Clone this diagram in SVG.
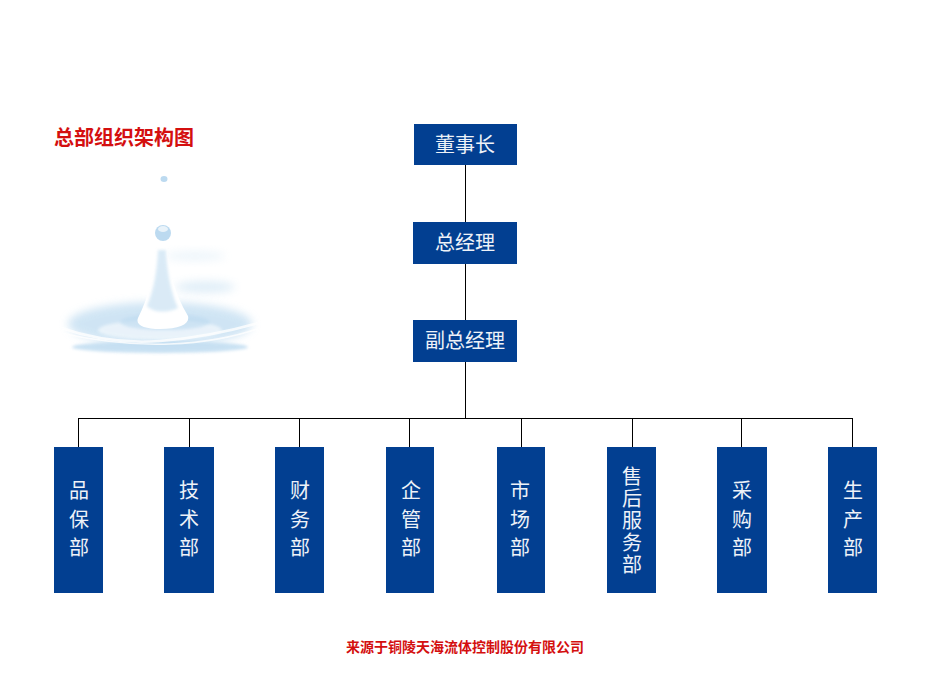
<svg xmlns="http://www.w3.org/2000/svg" width="930" height="700" viewBox="0 0 930 700">
<style>
text{font-family:"Noto Sans CJK SC","Liberation Sans",sans-serif}
.b{fill:#023f91}
.t{fill:#eef2f8;font-size:20px;text-anchor:middle}
.c{stroke:#000;stroke-width:1;fill:none}
.r{fill:#d40f0f;font-weight:700}
.w{fill:#bcdaf0}
.h{fill:#fff}
</style>
<defs>
<filter id="b4" x="-30%" y="-60%" width="160%" height="220%"><feGaussianBlur stdDeviation="4"/></filter>
<filter id="b2" x="-30%" y="-60%" width="160%" height="220%"><feGaussianBlur stdDeviation="1.6"/></filter>
<filter id="b1" x="-30%" y="-30%" width="160%" height="160%"><feGaussianBlur stdDeviation="0.7"/></filter>
</defs>
<g id="water">
<ellipse class="w" cx="160" cy="324" rx="92" ry="22" opacity=".7" filter="url(#b4)"/>
<ellipse class="w" cx="160" cy="347" rx="88" ry="6" opacity=".8" filter="url(#b2)"/>
<ellipse class="w" cx="205" cy="287" rx="30" ry="6" opacity=".45" filter="url(#b4)"/>
<ellipse class="w" cx="195" cy="256" rx="30" ry="5" opacity=".25" filter="url(#b4)"/>
<ellipse class="h" cx="160" cy="330" rx="62" ry="10" opacity=".55" filter="url(#b2)"/>
<ellipse class="w" cx="165" cy="322" rx="45" ry="8" opacity=".6" filter="url(#b2)"/>
<path d="M58 327Q110 345 160 341T262 322" fill="none" stroke="#fff" stroke-width="2.5" opacity=".8" filter="url(#b1)"/>
<path d="M60 333Q120 346 170 344T260 328" fill="none" stroke="#fff" stroke-width="1.5" opacity=".8" filter="url(#b1)"/>
<path d="M155 244L167 244C169 265 172 290 188 316C190 324 180 329 160 329C145 329 135 325 138 318C150 295 154 270 155 244Z" fill="#fff" filter="url(#b1)"/>
<path d="M158 250L166 250C167 275 172 295 178 308C165 314 152 312 147 306C154 290 157 270 158 250Z" class="w" opacity=".55" filter="url(#b2)"/>
<circle cx="163" cy="233" r="8" class="w" filter="url(#b1)"/>
<ellipse cx="163" cy="229" rx="5" ry="3" fill="#e9f3fa" filter="url(#b1)"/>
<ellipse cx="164" cy="179" rx="3.5" ry="3" class="w" filter="url(#b1)"/>
</g>
<text id="title" class="r" x="54" y="145" font-size="20">总部组织架构图</text>
<g id="connectors">
<path class="c" d="M465.500 165V418M78.500 418.500H852.500M78.500 418V447M189.500 418V447M299.500 418V447M409.500 418V447M521.500 418V447M632.500 418V447M741.500 418V447M852.500 418V447"/>
</g>
<g id="n1"><rect class="b" x="414" y="124" width="103" height="41"/><text class="t" x="465" y="152">董事长</text></g>
<g id="n2"><rect class="b" x="413" y="222" width="104" height="42"/><text class="t" x="465" y="250">总经理</text></g>
<g id="n3"><rect class="b" x="413" y="320" width="104" height="42"/><text class="t" x="465" y="348">副总经理</text></g>
<g id="d1"><rect class="b" x="54" y="447" width="49" height="146"/><text class="t" x="79"><tspan x="79" y="498">品</tspan><tspan x="79" y="527">保</tspan><tspan x="79" y="555">部</tspan></text></g>
<g id="d2"><rect class="b" x="164" y="447" width="50" height="146"/><text class="t" x="189"><tspan x="189" y="498">技</tspan><tspan x="189" y="527">术</tspan><tspan x="189" y="555">部</tspan></text></g>
<g id="d3"><rect class="b" x="275" y="447" width="49" height="146"/><text class="t" x="300"><tspan x="300" y="498">财</tspan><tspan x="300" y="527">务</tspan><tspan x="300" y="555">部</tspan></text></g>
<g id="d4"><rect class="b" x="386" y="447" width="48" height="146"/><text class="t" x="411"><tspan x="411" y="498">企</tspan><tspan x="411" y="527">管</tspan><tspan x="411" y="555">部</tspan></text></g>
<g id="d5"><rect class="b" x="497" y="447" width="48" height="146"/><text class="t" x="520"><tspan x="520" y="498">市</tspan><tspan x="520" y="527">场</tspan><tspan x="520" y="555">部</tspan></text></g>
<g id="d6"><rect class="b" x="607" y="447" width="49" height="146"/><text class="t" x="632"><tspan x="632" y="484">售</tspan><tspan x="632" y="506">后</tspan><tspan x="632" y="528">服</tspan><tspan x="632" y="550">务</tspan><tspan x="632" y="572">部</tspan></text></g>
<g id="d7"><rect class="b" x="717" y="447" width="50" height="146"/><text class="t" x="742"><tspan x="742" y="498">采</tspan><tspan x="742" y="527">购</tspan><tspan x="742" y="555">部</tspan></text></g>
<g id="d8"><rect class="b" x="828" y="447" width="49" height="146"/><text class="t" x="853"><tspan x="853" y="498">生</tspan><tspan x="853" y="527">产</tspan><tspan x="853" y="555">部</tspan></text></g>
<text id="source" class="r" x="346" y="652" font-size="14" font-weight="500">来源于铜陵天海流体控制股份有限公司</text>
</svg>
